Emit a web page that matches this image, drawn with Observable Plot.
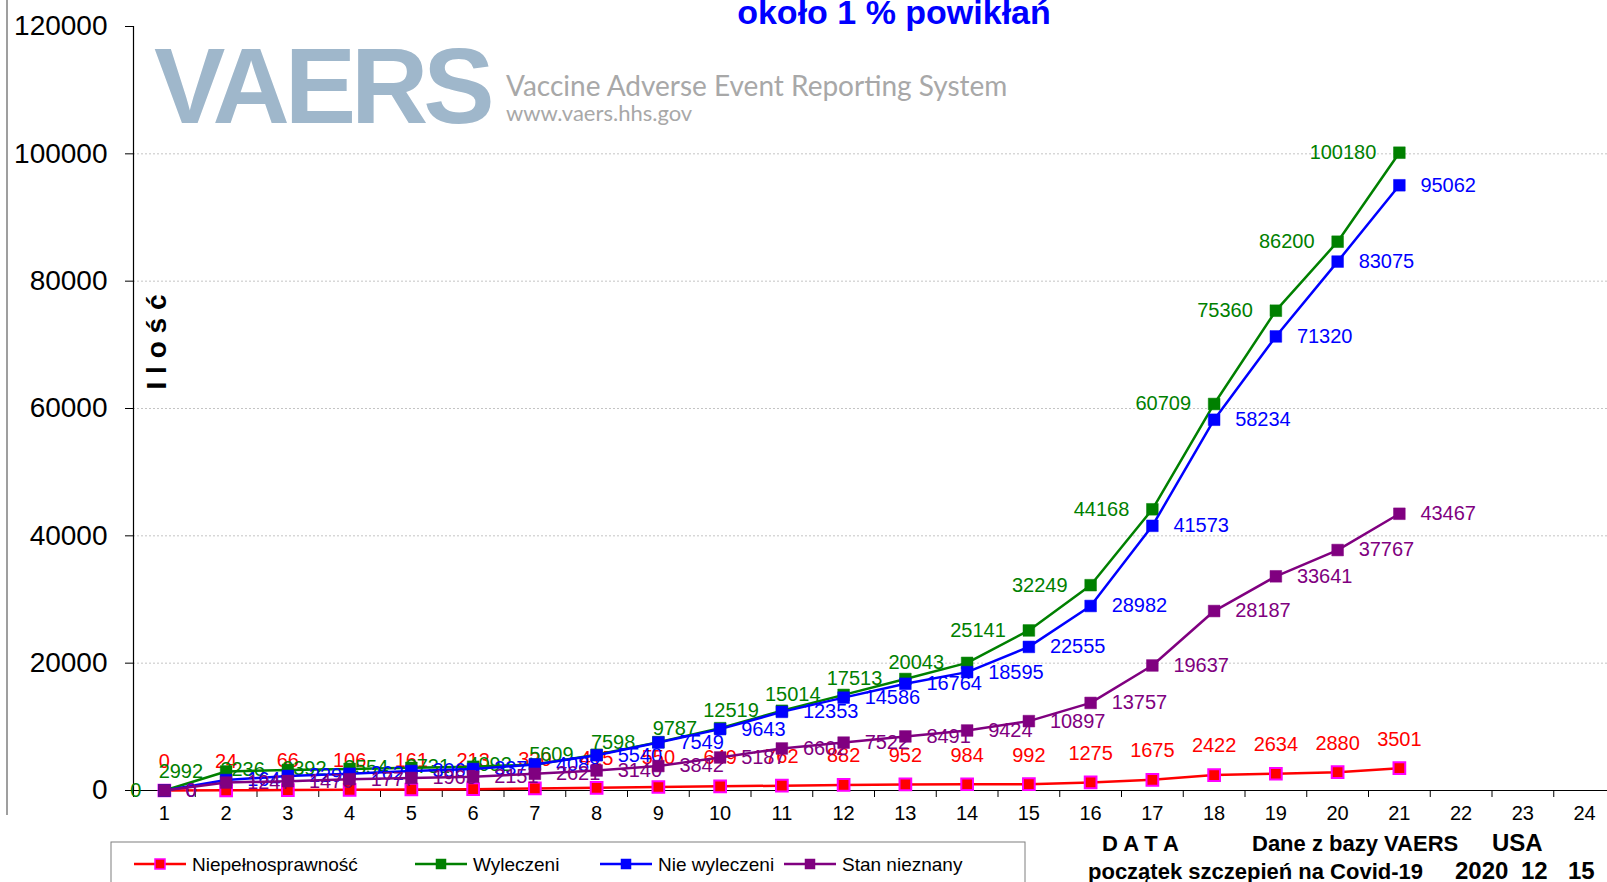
<!DOCTYPE html>
<html><head><meta charset="utf-8">
<script src="https://cdn.jsdelivr.net/npm/d3@7"></script>
<script src="https://cdn.jsdelivr.net/npm/@observablehq/plot@0.6"></script>
<style>
body{margin:0;background:#fff;font-family:"Liberation Sans",Arial,sans-serif;}
#wrap{position:relative;width:1607px;height:882px;overflow:hidden;background:#fff;}
#wrap svg{position:absolute;left:0;top:0;}
</style></head><body><div id="wrap"><div id="chart"></div>
<svg id="over" width="1607" height="882" style="pointer-events:none;font-family:'Liberation Sans',Arial,sans-serif">
  <line x1="7" y1="0" x2="7" y2="815" stroke="#7f7f7f" stroke-width="1.5"/>
  <text x="154" y="123" font-size="107" font-weight="bold" fill="#9fb7cb" letter-spacing="-5">VAERS</text>
  <text x="506" y="96" font-size="28" fill="#a8a8a8" style="font-family:Lato,'Open Sans',sans-serif">Vaccine Adverse Event Reporting System</text>
  <text x="506" y="121" font-size="22" fill="#a8a8a8" style="font-family:Lato,'Open Sans',sans-serif">www.vaers.hhs.gov</text>
  <text x="894" y="24" text-anchor="middle" font-size="34" font-weight="bold" fill="#0000ff">około 1 % powikłań</text>
  <text transform="translate(166,342) rotate(-90)" text-anchor="middle" font-size="28" font-weight="bold" fill="#000">I l o ś ć</text>
  <text x="1102" y="851" font-size="22" font-weight="bold" fill="#000">D A T A</text>
  <text x="1252" y="851" font-size="22" font-weight="bold" fill="#000">Dane z bazy VAERS</text>
  <text x="1492" y="851" font-size="24" font-weight="bold" fill="#000">USA</text>
  <text x="1088" y="879" font-size="22" font-weight="bold" fill="#000">początek szczepień na Covid-19</text>
  <text x="1455" y="879" font-size="24" font-weight="bold" fill="#000">2020</text>
  <text x="1521" y="879" font-size="24" font-weight="bold" fill="#000">12</text>
  <text x="1568" y="879" font-size="24" font-weight="bold" fill="#000">15</text>
  <g id="legend"></g>
</svg>
</div>
<script>
// ---- data ----
const dni = [1,2,3,4,5,6,7,8,9,10,11,12,13,14,15,16,17,18,19,20,21];
const niepelnosprawnosc = [0,24,66,106,161,213,320,415,550,649,762,882,952,984,992,1275,1675,2422,2634,2880,3501];
const wyleczeni = [0,2992,3236,3392,3554,3731,4092,5609,7598,9787,12519,15014,17513,20043,25141,32249,44168,60709,75360,86200,100180];
const nieWyleczeni = [0,1649,2290,2627,3066,3375,4088,5540,7549,9643,12353,14586,16764,18595,22555,28982,41573,58234,71320,83075,95062];
const stanNieznany = [0,1247,1470,1777,1965,2151,2621,3140,3842,5187,6602,7522,8491,9424,10897,13757,19637,28187,33641,37767,43467];
const xTicks = [1,2,3,4,5,6,7,8,9,10,11,12,13,14,15,16,17,18,19,20,21,22,23,24];
const yTicks = [0,20000,40000,60000,80000,100000,120000];
const seriesNames = ["Niepełnosprawność","Wyleczeni","Nie wyleczeni","Stan nieznany"];
const seriesColors = ["#ff0000","#008000","#0000ff","#800080"];
const markerStroke = ["#ff00ff","#008000","#0000ff","#800080"];

const rows = v => dni.map((d,i) => ({d, v: v[i]}));
const S = [rows(niepelnosprawnosc), rows(wyleczeni), rows(nieWyleczeni), rows(stanNieznany)];
const labelOpts = [
  {dy:-29, textAnchor:"middle"},
  {dx:-23, textAnchor:"end"},
  {dx:21, textAnchor:"start"},
  {dx:21, textAnchor:"start"}
];

const marks = [
  Plot.ruleY(yTicks.filter(t => t > 0 && t < 120000), {stroke:"#c4c4c4", strokeDasharray:"2,2", strokeWidth:1}),
  Plot.axisY({ticks: yTicks, tickSize: 8, tickPadding: 18, fontSize: 28, tickFormat: d => String(d), label: null, stroke:"#000"}),
  Plot.axisX(xTicks, {tickSize: 0, tickPadding: 15, fontSize: 20, tickFormat: d => String(d), label: null}),
  Plot.axisX(xTicks.map(t => t - 0.5).concat([24.5]), {tickSize: 7, tickFormat: () => "", label: null, stroke:"#000"}),
  Plot.ruleX([0.5], {y1: 0, y2: 120000, stroke:"#000", strokeWidth:1.2}),
  Plot.ruleY([0], {stroke:"#000", strokeWidth:1.2})
];
S.forEach((data, k) => {
  marks.push(Plot.line(data, {x:"d", y:"v", stroke: seriesColors[k], strokeWidth: 2.5}));
  marks.push(Plot.dot(data, {x:"d", y:"v", symbol:"square", r: 6.6, fill: seriesColors[k], stroke: markerStroke[k], strokeWidth: k === 0 ? 2 : 0.5}));
  marks.push(Plot.text(data, {x:"d", y:"v", text: d => String(d.v), fill: seriesColors[k], fontSize: 20, ...labelOpts[k]}));
});

const chart = Plot.plot({
  width: 1607, height: 882,
  marginLeft: 133, marginRight: -8, marginTop: 26, marginBottom: 92,
  style: {fontFamily: "'Liberation Sans', Arial, sans-serif", background: "transparent", overflow: "visible"},
  x: {type: "linear", domain: [0.5, 24.5], range: [133, 1615]},
  y: {domain: [0, 120000], range: [790, 26]},
  marks
});
document.getElementById("chart").appendChild(chart);

// ---- legend ----
const lg = d3.select("#legend");
lg.append("rect").attr("x", 111).attr("y", 842).attr("width", 914).attr("height", 60)
  .attr("fill", "#fff").attr("stroke", "#7f7f7f").attr("stroke-width", 1);
const lineX = [134, 415, 600, 784];
seriesNames.forEach((name, k) => {
  const x0 = lineX[k];
  lg.append("line").attr("x1", x0).attr("x2", x0 + 52).attr("y1", 864).attr("y2", 864)
    .attr("stroke", seriesColors[k]).attr("stroke-width", 2.5);
  lg.append("rect").attr("x", x0 + 21).attr("y", 859).attr("width", 10).attr("height", 10)
    .attr("fill", seriesColors[k]).attr("stroke", markerStroke[k]).attr("stroke-width", k === 0 ? 1.5 : 0.5);
  lg.append("text").attr("x", x0 + 58).attr("y", 871).attr("font-size", 19).attr("fill", "#000").text(name);
});
</script></body></html>
